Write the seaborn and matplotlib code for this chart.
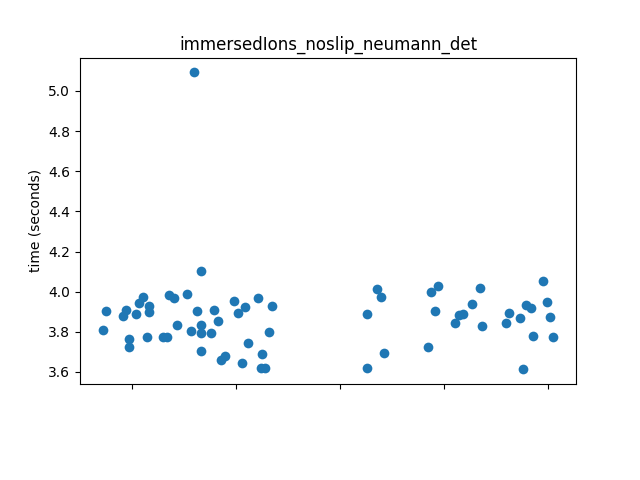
"""
Timing scatter for the immersedIons_noslip_neumann_det benchmark
"""

import matplotlib
matplotlib.use('Agg')
import matplotlib.pyplot as plt
import seaborn as sns
import pandas as pd

run_pos = [
    0.662, 0.099, 0.067, 0.164, 0.164, -0.253, -0.061, -0.093, 0.036, -0.286,
    -0.029, -0.029, 0.138, 0.299, 0.331, 0.357, 0.405, 0.523, 0.427, 0.566,
    0.620, 0.662, 0.662, 0.662, 0.759, 0.784, 0.826, 0.855, 0.893, 0.983,
    1.015, 1.082, 1.053, 1.115, 1.208, 1.243, 1.240, 1.275, 1.340, 1.314,
    0.591,
    2.355, 2.393, 2.258, 2.419, 2.258,
    2.943, 2.872, 2.914, 2.843,
    3.342, 3.270, 3.142, 3.178, 3.104, 3.367,
    3.952, 3.990, 3.791, 3.833, 3.627, 3.730, 4.019, 3.598, 3.855, 4.051,
    3.759,
]
run_time = [
    4.102, 3.974, 3.944, 3.928, 3.899, 3.903, 3.908, 3.878, 3.891, 3.808,
    3.763, 3.722, 3.775, 3.775, 3.775, 3.983, 3.966, 3.986, 3.832, 3.803,
    3.903, 3.832, 3.793, 3.704, 3.793, 3.911, 3.852, 3.662, 3.682, 3.953,
    3.896, 3.923, 3.647, 3.742, 3.966, 3.692, 3.622, 3.622, 3.928, 3.797,
    5.092,
    4.011, 3.971, 3.891, 3.697, 3.619,
    4.027, 3.996, 3.906, 3.722,
    4.016, 3.938, 3.884, 3.889, 3.842, 3.827,
    4.051, 3.951, 3.933, 3.921, 3.896, 3.871, 3.876, 3.842, 3.777, 3.772,
    3.614,
]
tick_pos = [0, 1, 2, 3, 4]
tick_labels = ['', '', '', '', '']

df = pd.DataFrame({'run': run_pos, 'time': run_time})

fig, ax = plt.subplots(figsize=(6.4, 4.8), dpi=100)
fig.subplots_adjust(bottom=0.2)

sns.scatterplot(data=df, x='run', y='time', ax=ax, color='#1f77b4',
                s=49, linewidth=0, legend=False)

ax.set_xticks(tick_pos)
ax.set_xticklabels(tick_labels)
ax.set_xlabel('')
ax.set_ylabel('time (seconds)')
ax.set_title('immersedIons_noslip_neumann_det')

plt.savefig('out.png')
